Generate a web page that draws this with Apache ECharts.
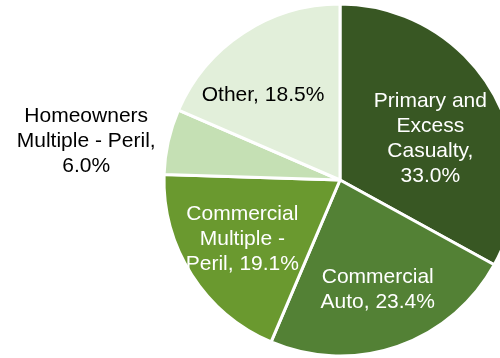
<!DOCTYPE html>
<html>
<head>
<meta charset="utf-8">
<script src="https://cdn.jsdelivr.net/npm/echarts@6/dist/echarts.min.js"></script>
<style>
  html, body { margin: 0; padding: 0; background: #ffffff; }
  #chart { width: 500px; height: 358px; }
</style>
</head>
<body>
<div id="chart"></div>
<script>
// Premium share by line of business (percent)
const categories = [
  'Primary and Excess Casualty',
  'Commercial Auto',
  'Commercial Multiple - Peril',
  'Homeowners Multiple - Peril',
  'Other'
];
const shares = [33.0, 23.4, 19.1, 6.0, 18.5];

// Wrapped label text for each slice, and whether the value goes on its own line
const wrappedNames = [
  'Primary and\nExcess\nCasualty',
  'Commercial\nAuto',
  'Commercial\nMultiple -\nPeril',
  'Homeowners\nMultiple - Peril',
  'Other'
];
const valueOnNewLine = [true, false, false, true, false];

const sliceColors = ['#385723', '#538135', '#6A992F', '#C5E0B4', '#E2EFDA'];
const labelColors = ['#ffffff', '#ffffff', '#ffffff', '#000000', '#000000'];
// Fine placement of each label relative to its default inside position
const labelOffsets = [[12, 5], [8, 24], [-21, 10], [-165, -19], [-27, -9]];

const chart = echarts.init(document.getElementById('chart'), null, { renderer: 'canvas' });

const data = categories.map((name, i) => ({
  name,
  value: shares[i],
  itemStyle: { color: sliceColors[i] },
  label: { color: labelColors[i], offset: labelOffsets[i] }
}));

chart.setOption({
  animation: false,
  series: [{
    type: 'pie',
    center: [340, 180],
    radius: [0, 176],
    startAngle: 90,
    clockwise: true,
    avoidLabelOverlap: false,
    silent: true,
    itemStyle: { borderColor: '#ffffff', borderWidth: 3 },
    label: {
      show: true,
      position: 'inside',
      fontFamily: 'Liberation Sans, Arial, sans-serif',
      fontSize: 21,
      lineHeight: 25,
      align: 'center',
      formatter: (p) => {
        const i = p.dataIndex;
        return wrappedNames[i] + ',' + (valueOnNewLine[i] ? '\n' : ' ') + shares[i].toFixed(1) + '%';
      }
    },
    labelLine: { show: false },
    emphasis: { disabled: true },
    data
  }]
});
</script>
</body>
</html>
